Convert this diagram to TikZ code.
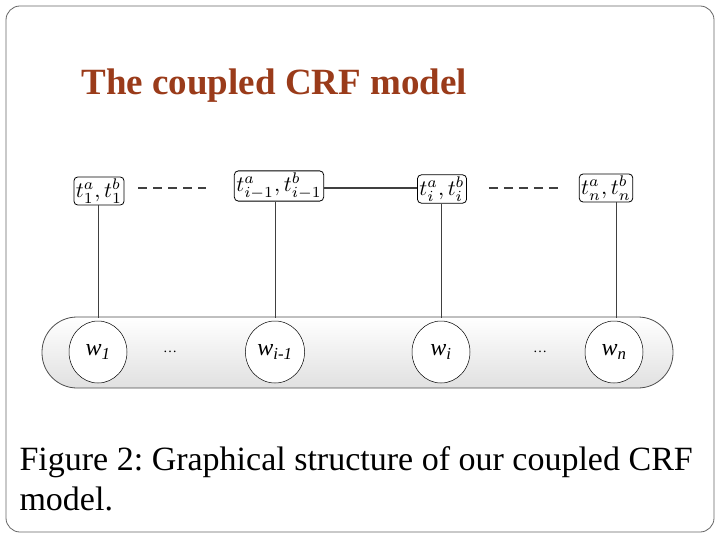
\documentclass[tikz,border=0pt]{standalone}
\usepackage{fontspec}
\setmainfont{Liberation Serif}
\usetikzlibrary{shapes.geometric}
\definecolor{titlebrown}{HTML}{9A3B1A}
\begin{document}
\begin{tikzpicture}[x=1pt,y=-1pt,
  tbox/.style={draw,rounded corners=4pt,line width=0.8pt,inner sep=2pt},
  wnode/.style={draw,ellipse,line width=0.5pt,minimum width=58pt,minimum height=62pt,fill=white,font=\itshape\fontsize{24}{24}\selectfont},
  conn/.style={draw=black!75,line width=1.5pt}]
\useasboundingbox (0,0) rectangle (720,540);
\draw[black!60,rounded corners=14pt,line width=0.8pt] (6,6) rectangle (714,532);
\node[anchor=base west,text=titlebrown,font=\bfseries\fontsize{37}{37}\selectfont] (title) at (78,95) {The coupled CRF model};
\shade[top color=white,bottom color=black!12,rounded corners=35pt,draw=black!70,line width=0.8pt] (42,317) rectangle (673,388);
\node[tbox] (t1) at (99,191) {\scalebox{2.2}{$t^a_1,t^b_1$}};
\node[tbox] (ti1) at (279,186) {\scalebox{2.2}{$t^a_{i-1},t^b_{i-1}$}};
\node[tbox] (ti) at (442,189) {\scalebox{2.2}{$t^a_i,t^b_i$}};
\node[tbox] (tn) at (606,188) {\scalebox{2.2}{$t^a_n,t^b_n$}};
\node[wnode] (w1) at (98,352) {w\textsubscript{1}};
\node[wnode] (wi1) at (275,352) {w\textsubscript{i-1}};
\node[wnode] (wi) at (441,352) {w\textsubscript{i}};
\node[wnode] (wn) at (614,352) {w\textsubscript{n}};
\node (d1) at (170,352) {\fontsize{14}{14}\selectfont\dots};
\node (d2) at (540,352) {\fontsize{14}{14}\selectfont\dots};
\draw[conn,dash pattern=on 9pt off 6pt] ([xshift=14pt]t1.east |- 0,188) -- ([xshift=-28pt]ti1.west |- 0,188);
\draw[conn] (ti1.east |- 0,188) -- (ti.west |- 0,188);
\draw[conn,dash pattern=on 9pt off 6pt] ([xshift=22pt]ti.east |- 0,188) -- ([xshift=-20pt]tn.west |- 0,188);
\draw[black!75,line width=1pt] (t1.south -| w1) -- (98,318);
\draw[black!75,line width=1pt] (ti1.south -| wi1) -- (275,318);
\draw[black!75,line width=1pt] (ti.south -| wi) -- (441,318);
\draw[black!75,line width=1pt] (tn.south -| 616,0) -- (616,318);
\node[anchor=base west,font=\fontsize{34}{34}\selectfont] (cap) at (16,470) {Figure 2:\ Graphical structure of our coupled CRF};
\node[anchor=base west,font=\fontsize{34}{34}\selectfont] (cap2) at (16,510) {model.};
\end{tikzpicture}
\end{document}
